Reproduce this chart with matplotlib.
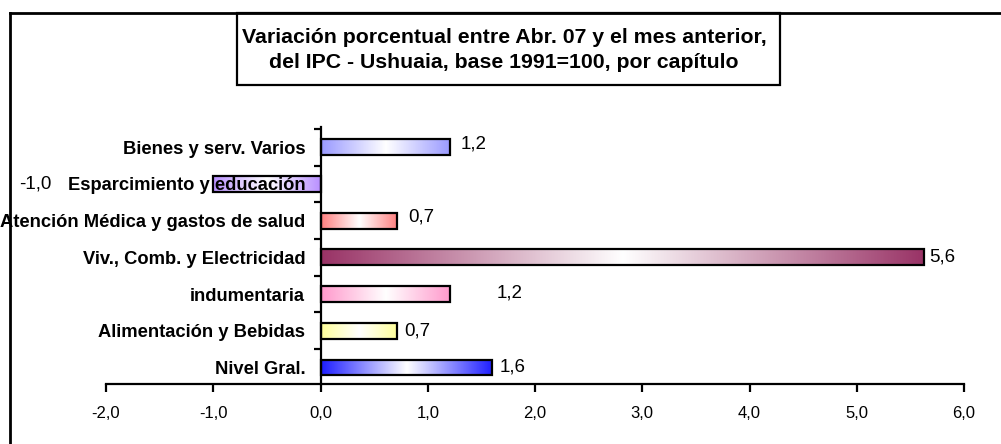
import matplotlib
matplotlib.use("Agg")
import matplotlib.pyplot as plt
import numpy as np
from matplotlib.colors import to_rgb
from matplotlib.ticker import FuncFormatter, FixedLocator
from matplotlib.lines import Line2D
from matplotlib.patches import Rectangle

plt.rcParams["font.family"] = ["Liberation Sans", "DejaVu Sans"]

# categories bottom to top
categories = ["Nivel Gral.", "Alimentación y Bebidas", "indumentaria",
              "Viv., Comb. y Electricidad", "Atención Médica y gastos de salud",
              "Esparcimiento y educación", "Bienes y serv. Varios"]
values = [1.6, 0.71, 1.21, 5.63, 0.71, -1.0, 1.21]
colors = ["#1E1EFF", "#FFFF99", "#FF99CC", "#993366", "#FF7F7F", "#B990FF", "#9999FF"]
# label offsets (pixels) as placed in the original
label_dx = [8, 8, 46, 5, 12, -162, 10]
label_dy = [0, 0, 1, 0, 4, 0, 3]

fig = plt.figure(figsize=(10.01, 4.44), dpi=100)
ax = fig.add_axes([106 / 1001, 1 - 384 / 444, (964 - 106) / 1001, (384 - 127) / 444])

y = np.arange(len(categories))
bars = ax.barh(y, values, height=0.43, color="none", edgecolor="black",
               linewidth=1.6, zorder=1)

# horizontal gradient: colour at the ends, white in the middle
t = np.abs(np.linspace(-1, 1, 256)) ** 1.0
for bar, c in zip(bars, colors):
    rgb = np.array(to_rgb(c))
    grad = (1 - t)[:, None] * np.ones(3) + t[:, None] * rgb
    img = np.tile(grad[None, :, :], (2, 1, 1))
    x0, w = bar.get_x(), bar.get_width()
    y0, h = bar.get_y(), bar.get_height()
    im = ax.imshow(img, extent=[min(x0, x0 + w), max(x0, x0 + w), y0, y0 + h],
                   aspect="auto", zorder=0.9, interpolation="bilinear")
    im.set_clip_path(bar)

for i, (v, dx, dy) in enumerate(zip(values, label_dx, label_dy)):
    ha = "right" if v < 0 else "left"
    ax.annotate(f"{v:.1f}".replace(".", ","), xy=(v, i), xytext=(dx, dy),
                textcoords="offset pixels", ha=ha, va="center", fontsize=13.5)

ax.set_xlim(-2, 6)
ax.set_ylim(-0.45, len(categories) - 0.45)

for s in ["top", "right"]:
    ax.spines[s].set_visible(False)
ax.spines["left"].set_position(("data", 0))
ax.spines["left"].set_linewidth(1.6)
ax.spines["bottom"].set_linewidth(1.6)
ax.yaxis.set_zorder(5)

ax.set_xticks(np.arange(-2, 7, 1))
ax.xaxis.set_major_formatter(FuncFormatter(lambda v, p: f"{v:.1f}".replace(".", ",")))
ax.tick_params(axis="x", direction="out", length=6, width=1.6, labelsize=12, pad=10)

ax.yaxis.set_major_locator(FixedLocator(np.arange(-0.5, len(categories), 1)))
ax.yaxis.set_major_formatter(FuncFormatter(lambda v, p: ""))
ax.yaxis.set_minor_locator(FixedLocator(y))
ax.set_yticklabels(categories, minor=True, fontweight="bold", fontsize=13.2)
ax.tick_params(axis="y", which="major", direction="out", length=5, width=1.6)
ax.tick_params(axis="y", which="minor", length=0, pad=11)

# outer chart frame (cropped at right and bottom)
fig.add_artist(Line2D([10 / 1001, 10 / 1001], [-0.1, 1 - 13 / 444], color="black",
                      lw=2, transform=fig.transFigure))
fig.add_artist(Line2D([10 / 1001, 1.1], [1 - 13 / 444, 1 - 13 / 444], color="black",
                      lw=2, transform=fig.transFigure))

# title box
fig.add_artist(Rectangle((237 / 1001, 1 - 85 / 444), (780 - 237) / 1001, (85 - 13) / 444,
                         facecolor="white", edgecolor="black", lw=1.6,
                         transform=fig.transFigure))
fig.text(504 / 1001, 1 - 50 / 444,
         "Variación porcentual entre Abr. 07 y el mes anterior,\n"
         "del IPC - Ushuaia, base 1991=100, por capítulo",
         ha="center", va="center", fontsize=15.3, fontweight="bold", linespacing=1.42)

fig.savefig("out.png", dpi=100)
